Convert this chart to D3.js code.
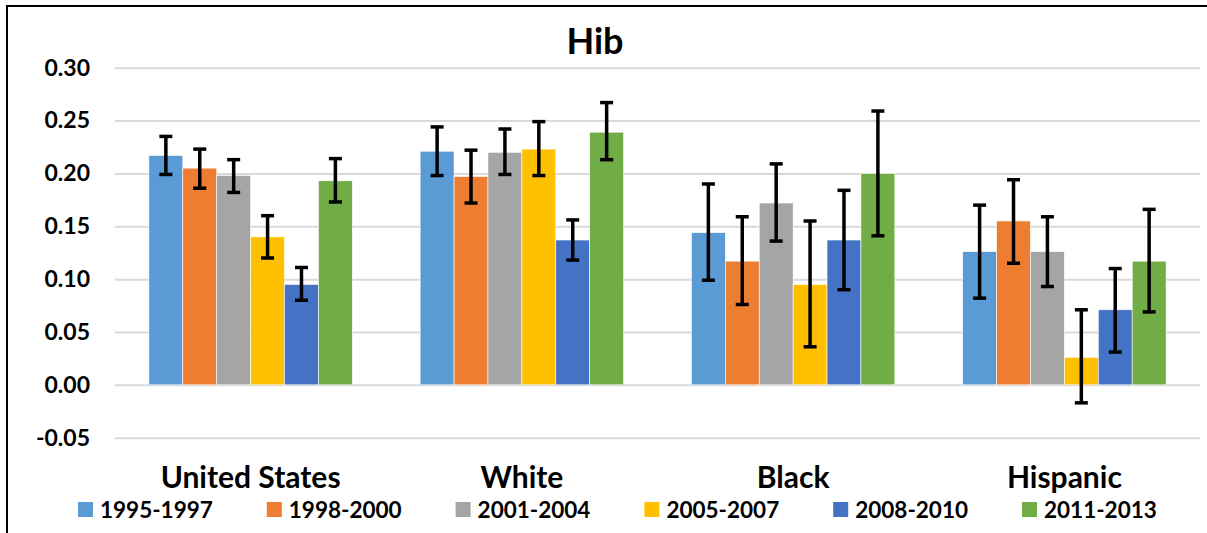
<!DOCTYPE html>
<html>
<head>
<meta charset="utf-8">
<script src="https://cdnjs.cloudflare.com/ajax/libs/d3/7.8.5/d3.min.js"></script>
<style>
  body { margin: 0; background: #fff; }
  svg { display: block; font-family: Lato, "Open Sans", sans-serif; font-weight: bold; }
</style>
</head>
<body>
<div id="chart"></div>
<script>
'use strict';

var groups = ['United States', 'White', 'Black', 'Hispanic'];
var periods = ['1995-1997', '1998-2000', '2001-2004', '2005-2007', '2008-2010', '2011-2013'];
var colors = ['#5B9BD5', '#ED7D31', '#A5A5A5', '#FFC000', '#4472C4', '#70AD47'];
var yTicks = [-0.05, 0, 0.05, 0.10, 0.15, 0.20, 0.25, 0.30];

// rate per period, one entry per group (US, White, Black, Hispanic)
var rate1995 = [0.217, 0.221, 0.144, 0.126];
var rate1998 = [0.205, 0.197, 0.117, 0.155];
var rate2001 = [0.198, 0.220, 0.172, 0.126];
var rate2005 = [0.140, 0.223, 0.095, 0.026];
var rate2008 = [0.095, 0.137, 0.137, 0.071];
var rate2011 = [0.193, 0.239, 0.200, 0.117];

// confidence interval bounds
var low1995 = [0.199, 0.198, 0.099, 0.082];
var high1995 = [0.235, 0.244, 0.190, 0.170];
var low1998 = [0.186, 0.172, 0.076, 0.115];
var high1998 = [0.223, 0.222, 0.159, 0.194];
var low2001 = [0.182, 0.199, 0.136, 0.093];
var high2001 = [0.213, 0.242, 0.209, 0.159];
var low2005 = [0.120, 0.198, 0.036, -0.017];
var high2005 = [0.160, 0.249, 0.155, 0.071];
var low2008 = [0.080, 0.118, 0.090, 0.031];
var high2008 = [0.111, 0.156, 0.184, 0.110];
var low2011 = [0.173, 0.213, 0.141, 0.069];
var high2011 = [0.214, 0.267, 0.259, 0.166];

var rates = [rate1995, rate1998, rate2001, rate2005, rate2008, rate2011];
var lows = [low1995, low1998, low2001, low2005, low2008, low2011];
var highs = [high1995, high1998, high2001, high2005, high2008, high2011];

var W = 1207, H = 533;
var margin = {top: 67.7, left: 115, right: 7, bottom: 95.3};
var cw = W - margin.left - margin.right;
var ch = H - margin.top - margin.bottom;

var svg = d3.select('#chart').append('svg')
    .attr('width', W)
    .attr('height', H);

// chart frame (only top and left edges show in the picture)
svg.append('path')
    .attr('d', 'M7,' + H + 'V6H' + W)
    .attr('fill', 'none')
    .attr('stroke', '#000')
    .attr('stroke-width', 2);

var y = d3.scaleLinear().domain([-0.05, 0.30]).range([ch, 0]);
var x0 = d3.scaleBand().domain(groups).range([0, cw]).paddingInner(0.25).paddingOuter(0.125);
var x1 = d3.scaleBand().domain(periods).range([0, x0.bandwidth()]);

var fmt = d3.formatLocale({decimal: '.', thousands: ',', grouping: [3], currency: ['', ''], minus: '-'}).format('.2f');

var plot = svg.append('g')
    .attr('transform', 'translate(' + margin.left + ',' + margin.top + ')');

var yAxis = plot.append('g')
    .call(d3.axisLeft(y).tickValues(yTicks).tickFormat(fmt).tickSize(-cw).tickPadding(25));
yAxis.select('.domain').remove();
yAxis.selectAll('line').attr('stroke', '#D9D9D9').attr('stroke-width', 2);
yAxis.selectAll('text')
    .attr('fill', '#000')
    .style('font-size', '23px')
    .style('font-family', 'Lato, sans-serif')
    .style('font-weight', 'bold');

var groupG = plot.selectAll('g.grp')
    .data(groups)
    .enter().append('g')
    .attr('class', 'grp')
    .attr('transform', function(d) { return 'translate(' + x0(d) + ',0)'; });

periods.forEach(function(p, k) {
    groupG.append('rect')
        .attr('x', function(d, i) { return x1(p); })
        .attr('y', function(d, i) { return y(Math.max(0, rates[k][i])); })
        .attr('width', x1.bandwidth())
        .attr('height', function(d, i) { return Math.abs(y(rates[k][i]) - y(0)); })
        .attr('fill', colors[k])
        .attr('stroke', '#fff')
        .attr('stroke-width', 0.6);
});

var capW = 13;
periods.forEach(function(p, k) {
    var cx = x1(p) + x1.bandwidth() / 2;
    groupG.append('line')
        .attr('x1', cx).attr('x2', cx)
        .attr('y1', function(d, i) { return y(highs[k][i]); })
        .attr('y2', function(d, i) { return y(lows[k][i]); })
        .attr('stroke', '#000').attr('stroke-width', 3.5);
    groupG.append('line')
        .attr('x1', cx - capW / 2).attr('x2', cx + capW / 2)
        .attr('y1', function(d, i) { return y(highs[k][i]); })
        .attr('y2', function(d, i) { return y(highs[k][i]); })
        .attr('stroke', '#000').attr('stroke-width', 3.5);
    groupG.append('line')
        .attr('x1', cx - capW / 2).attr('x2', cx + capW / 2)
        .attr('y1', function(d, i) { return y(lows[k][i]); })
        .attr('y2', function(d, i) { return y(lows[k][i]); })
        .attr('stroke', '#000').attr('stroke-width', 3.5);
});

// category labels
plot.selectAll('text.cat')
    .data(groups)
    .enter().append('text')
    .attr('class', 'cat')
    .attr('x', function(d) { return x0(d) + x0.bandwidth() / 2; })
    .attr('y', ch + 50.5)
    .attr('text-anchor', 'middle')
    .style('font-size', '30px')
    .text(function(d) { return d; });

// title
svg.append('text')
    .attr('x', 595)
    .attr('y', 54)
    .attr('text-anchor', 'middle')
    .style('font-size', '36px')
    .text('Hib');

// legend
var legend = svg.append('g').attr('transform', 'translate(78,502)');
var item = legend.selectAll('g')
    .data(periods)
    .enter().append('g')
    .attr('transform', function(d, i) { return 'translate(' + (i * 188.8) + ',0)'; });
item.append('rect')
    .attr('width', 15).attr('height', 15)
    .attr('fill', function(d, i) { return colors[i]; });
item.append('text')
    .attr('x', 22).attr('y', 15.5)
    .style('font-size', '22.5px')
    .text(function(d) { return d; });
</script>
</body>
</html>
